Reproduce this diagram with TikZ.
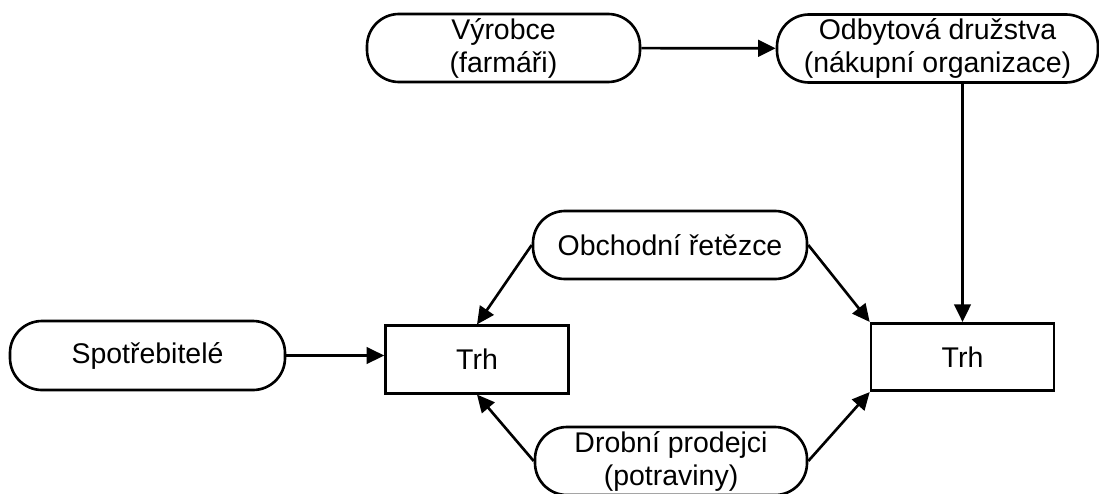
\documentclass[tikz,border=0pt]{standalone}
\usepackage{fontspec}
\setmainfont{Liberation Sans}
\usetikzlibrary{arrows.meta}
\tikzset{
  box/.style={draw, line width=1.5pt, align=center, inner sep=1pt, font=\fontsize{16.2}{18.8}\selectfont},
  kactor/.style={box, rounded corners=0.64cm, minimum height=1.36cm},
  kmarket/.style={box, minimum width=3.66cm, minimum height=1.35cm},
  flow/.style={-{Triangle[length=3.5mm, width=3.3mm]}, line width=1.5pt},
}

\begin{document}
\begin{tikzpicture}
    \useasboundingbox (0,0) rectangle (21.98,9.86);
    \node[kactor, minimum width=5.46cm] (vyrobce) at (10.07,8.90) {Výrobce\\(farmáři)};
    \node[kactor, minimum width=6.42cm] (druzstva) at (18.75,8.89) {Odbytová družstva\\(nákupní organizace)};
    \node[kactor, minimum width=5.48cm] (retezce) at (13.40,4.96) {Obchodní řetězce};
    \node[kactor, minimum width=5.50cm, minimum height=1.38cm] (spotreb) at (2.95,2.75) {Spotřebitelé};
    \node[kactor, minimum width=5.44cm] (prodejci) at (13.42,0.64) {Drobní prodejci\\(potraviny)};
    \node[kmarket] (trhL) at (9.54,2.67) {Trh};
    \node[kmarket] (trhR) at (19.25,2.72) {Trh};
    \draw[flow] (vyrobce) -- (druzstva);
    \draw[flow] (trhR.north |- druzstva.south) -- (trhR.north);
    \draw[flow] (spotreb) -- (spotreb -| trhL.west);
    \draw[flow] (retezce.west) -- (trhL.north);
    \draw[flow] (prodejci.west) -- (trhL.south);
    \draw[flow] (retezce.east) -- (trhR.north west);
    \draw[flow] (prodejci.east) -- (trhR.south west);
  \end{tikzpicture}
\end{document}
